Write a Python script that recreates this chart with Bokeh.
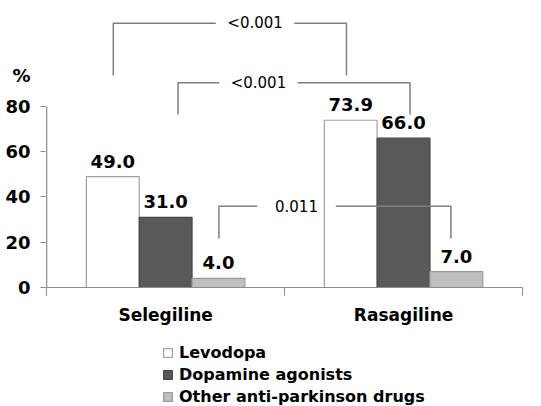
import numpy as np
from bokeh.plotting import figure
from bokeh.layouts import column
from bokeh.models import (Range1d, FixedTicker, Legend, LegendItem, Label,
                          ColumnDataSource)
from bokeh.core.properties import value
from bokeh.embed import file_html
from bokeh.resources import INLINE

# ---- data ----
categories = ["Selegiline", "Rasagiline"]
series = ["Levodopa", "Dopamine agonists", "Other anti-parkinson drugs"]
levodopa = [49.0, 73.9]
dopamine_agonists = [31.0, 66.0]
other_drugs = [4.0, 7.0]
y_ticks = [0, 20, 40, 60, 80]
y_unit = "%"

# comparison brackets (annotation layout): left x, right x, leg bottom,
# bracket top, text centre x, p-value text
bracket_x0 = [0.28, 0.552, 0.724]
bracket_x1 = [1.26, 1.527, 1.699]
bracket_y0 = [93.7, 76.5, 21.7]
bracket_y1 = [116.8, 90.5, 35.9]
bracket_tx = [0.876, 0.89, 1.05]
bracket_txt = ["<0.001", "<0.001", "0.011"]

values = [levodopa, dopamine_agonists, other_drugs]
fills = ["#ffffff", "#595959", "#bfbfbf"]
lines = ["#a0a0a0", "#454545", "#9a9a9a"]
offsets = [-0.222, 0.0, 0.222]
bar_w = 0.222
FONT = "DejaVu Sans"
AX = "#8c8c8c"

p = figure(width=541, height=332, output_backend="svg", toolbar_location=None,
           x_range=Range1d(-0.005, 2), y_range=Range1d(0, 122.4),
           min_border_left=45, min_border_right=19, min_border_top=10,
           min_border_bottom=45)
p.outline_line_color = None
p.grid.grid_line_color = None
p.background_fill_color = None
p.border_fill_color = "white"

centers = np.arange(len(categories)) + 0.5
for i, s in enumerate(series):
    xs = centers + offsets[i]
    src = ColumnDataSource(dict(x=xs, top=values[i],
                                lab=["%.1f" % v for v in values[i]]))
    p.vbar(x="x", top="top", width=bar_w, bottom=0, source=src,
           fill_color=fills[i], line_color=lines[i], line_width=1.2)
    p.text(x="x", y="top", text="lab", source=src, text_align="center",
           text_baseline="bottom", y_offset=-9, text_font=value(FONT),
           text_font_style="bold", text_font_size="18px", text_color="black")

# y axis line (only from 0 to 80)
p.segment(x0=[0], y0=[y_ticks[0]], x1=[0], y1=[y_ticks[-1]],
          line_color=AX, line_width=1.2)

# brackets
gap = 0.165
for x0, x1, y0, y1, tx, lab in zip(bracket_x0, bracket_x1, bracket_y0,
                                   bracket_y1, bracket_tx, bracket_txt):
    p.multi_line(xs=[[x0, x0, tx - gap], [tx + gap, x1, x1]],
                 ys=[[y0, y1, y1], [y1, y1, y0]],
                 line_color="#7f7f7f", line_width=1.5)
    p.add_layout(Label(x=tx, y=y1, text=lab, text_align="center",
                       text_baseline="middle", text_font=FONT,
                       text_font_size="15px", text_color="black"))

# y axis: ticks as minor ticks, unit "%" as an extra label above
ya = p.yaxis[0]
unit_pos = 93.5
ya.ticker = FixedTicker(ticks=y_ticks + [unit_pos], minor_ticks=y_ticks)
ya.major_label_overrides = {unit_pos: y_unit}
ya.axis_line_color = None
ya.major_tick_line_color = None
ya.major_tick_out = 0
ya.major_tick_in = 0
ya.minor_tick_line_color = AX
ya.minor_tick_out = 5
ya.minor_tick_in = 0
ya.major_label_standoff = 10
ya.major_label_text_font = FONT
ya.major_label_text_font_style = "bold"
ya.major_label_text_font_size = "18px"
ya.major_label_text_color = "black"

# x axis
xa = p.xaxis[0]
xa.ticker = FixedTicker(ticks=list(centers), minor_ticks=[0, 1, 2])
xa.major_label_overrides = {float(c): n for c, n in zip(centers, categories)}
xa.axis_line_color = AX
xa.major_tick_line_color = None
xa.major_tick_out = 0
xa.minor_tick_line_color = AX
xa.minor_tick_out = 8
xa.minor_tick_in = 0
xa.major_label_standoff = 9
xa.major_label_text_font = FONT
xa.major_label_text_font_style = "bold"
xa.major_label_text_font_size = "17px"
xa.major_label_text_color = "black"

# legend strip below the chart: proxy bars with the same styles, placed
# below the visible y range of this strip so only the legend shows
pl = figure(width=541, height=74, output_backend="svg", toolbar_location=None,
            x_range=Range1d(0, 1), y_range=Range1d(0, 1),
            x_axis_location=None, y_axis_location=None,
            min_border=0)
pl.outline_line_color = None
pl.grid.grid_line_color = None
pl.background_fill_color = None
pl.border_fill_color = "white"
leg_r = []
for i, s in enumerate(series):
    leg_r.append(pl.vbar(x=[0.5], top=[-2], bottom=-3, width=0.1,
                         fill_color=fills[i], line_color=lines[i],
                         line_width=1.2))
legend = Legend(items=[LegendItem(label=s, renderers=[r])
                       for s, r in zip(series, leg_r)],
                location=(117, 0), orientation="vertical",
                glyph_width=11, glyph_height=11, label_height=19, spacing=3,
                label_standoff=6, padding=0, margin=0,
                border_line_color=None, background_fill_alpha=0,
                label_text_font=FONT, label_text_font_style="bold",
                label_text_font_size="16px", label_text_color="black")
pl.add_layout(legend)

layout = column(p, pl, spacing=0)
open("out.html", "w").write(file_html(layout, INLINE))
